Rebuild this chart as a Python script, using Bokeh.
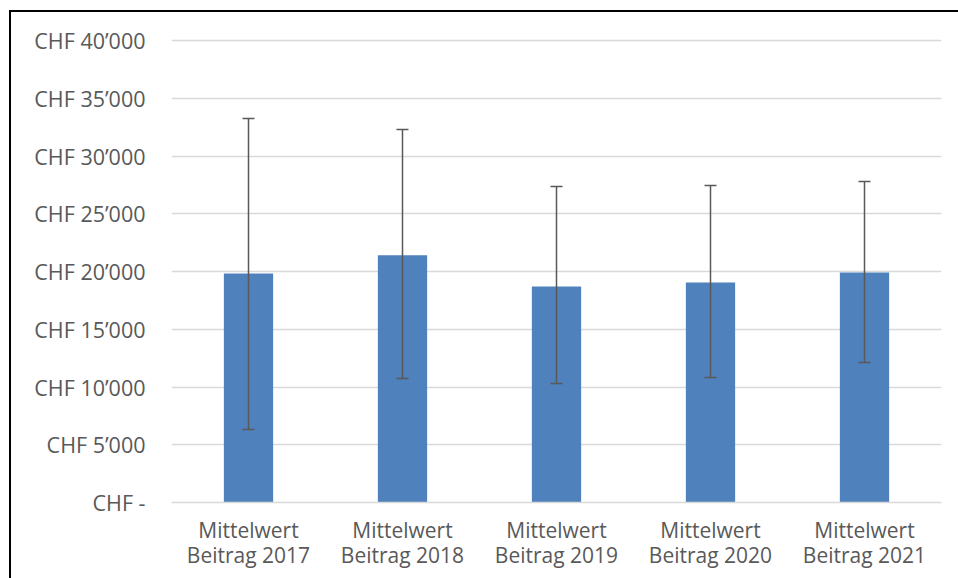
from bokeh.plotting import figure
from bokeh.models import ColumnDataSource, Whisker, FixedTicker, TeeHead, Range1d
from bokeh.embed import file_html
from bokeh.resources import INLINE

categories = ["Mittelwert\nBeitrag 2017", "Mittelwert\nBeitrag 2018", "Mittelwert\nBeitrag 2019",
              "Mittelwert\nBeitrag 2020", "Mittelwert\nBeitrag 2021"]
means = [19830, 21400, 18700, 19050, 19920]
lower = [6320, 10740, 10300, 10820, 12120]
upper = [33250, 32300, 27360, 27450, 27790]
tick_values = [0, 5000, 10000, 15000, 20000, 25000, 30000, 35000, 40000]
tick_labels = ["CHF -", "CHF 5’000", "CHF 10’000", "CHF 15’000", "CHF 20’000",
               "CHF 25’000", "CHF 30’000", "CHF 35’000", "CHF 40’000"]

src = ColumnDataSource(dict(cat=categories, mean=means, lo=lower, hi=upper))

p = figure(x_range=categories, y_range=Range1d(0, 40260), width=958, height=578,
           output_backend="svg", toolbar_location=None,
           min_border_left=171, min_border_right=17, min_border_top=37, min_border_bottom=76)
p.border_fill_color = None
p.background_fill_color = "white"
p.styles = {
    "background-color": "white",
    "background-image": "linear-gradient(#000, #000), linear-gradient(#000, #000)",
    "background-size": "2px 600px, 1000px 2px",
    "background-position": "9px 10px, 9px 10px",
    "background-repeat": "no-repeat",
}

p.vbar(x="cat", top="mean", width=0.32, source=src, fill_color="#4f81bd", line_color=None)

w = Whisker(base="cat", lower="lo", upper="hi", source=src, line_color="#595959", line_width=1.5,
            upper_head=TeeHead(size=12, line_color="#595959", line_width=1.5),
            lower_head=TeeHead(size=12, line_color="#595959", line_width=1.5), level="annotation")
p.add_layout(w)

p.outline_line_color = None
p.xgrid.grid_line_color = None
p.ygrid.grid_line_color = "#d9d9d9"
p.ygrid.grid_line_width = 1.5

p.yaxis.ticker = FixedTicker(ticks=tick_values)
p.yaxis.major_label_overrides = {v: l for v, l in zip(tick_values, tick_labels)}
p.yaxis.axis_line_color = None
p.yaxis.major_tick_line_color = None
p.yaxis.minor_tick_line_color = None
p.yaxis.major_label_standoff = 20
p.yaxis.major_label_text_font = "Open Sans"
p.yaxis.major_label_text_font_size = "21.5px"
p.yaxis.major_label_text_color = "#595959"

p.xaxis.axis_line_color = "#d9d9d9"
p.xaxis.axis_line_width = 1.5
p.xaxis.major_tick_line_color = None
p.xaxis.minor_tick_line_color = None
p.xaxis.major_label_standoff = 7
p.xaxis.major_label_text_font = "Open Sans"
p.xaxis.major_label_text_font_size = "21px"
p.xaxis.major_label_text_color = "#595959"
p.xaxis.major_label_text_line_height = 0.9

open("out.html", "w").write(file_html(p, INLINE))
